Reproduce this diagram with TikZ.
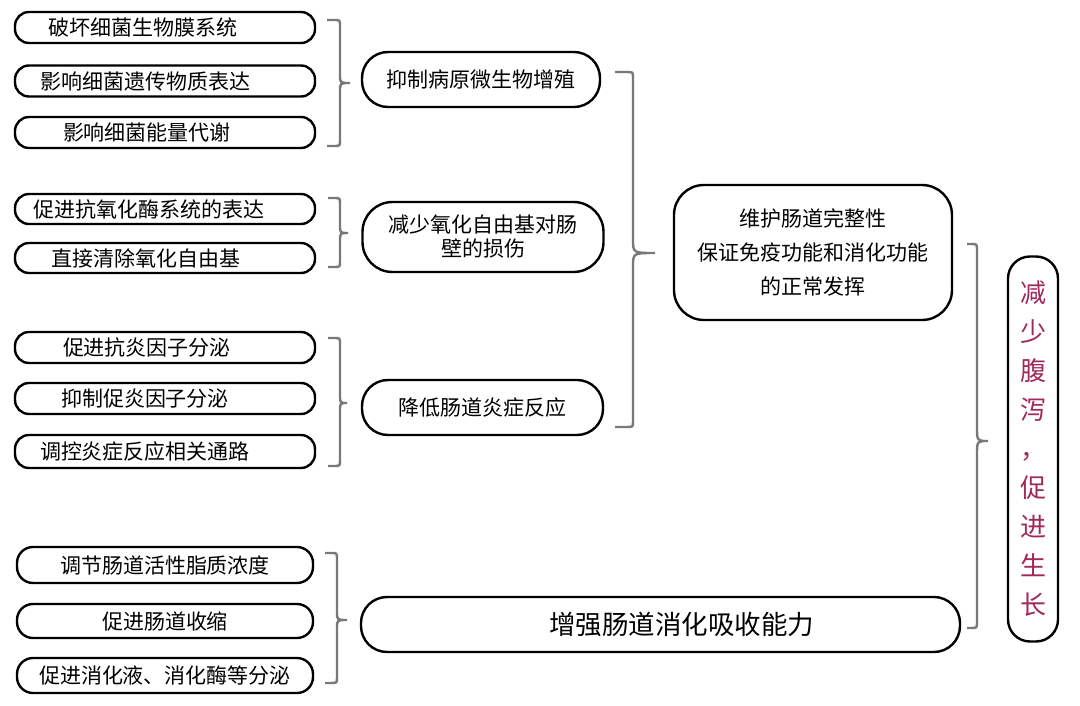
\documentclass[tikz,border=0pt]{standalone}
\usepackage{fontspec}
\setmainfont{Noto Sans CJK SC}
\definecolor{brgray}{RGB}{120,120,120}
\definecolor{rosered}{RGB}{160,40,90}
\newcommand\drawbrace[7]{%
  \draw[brc] (#1,#4) -- ({#2-6},#4) .. controls (#2,#4) .. (#2,{#4+6})
    -- (#2,{#5-#7}) .. controls (#2,#5) .. (#3,#5) .. controls (#2,#5) .. (#2,{#5+#7})
    -- (#2,{#6-6}) .. controls (#2,#6) .. ({#2-6},#6) -- (#1,#6);}
\begin{document}
\begin{tikzpicture}[x=1pt,y=-1pt,
  leaf/.style={draw, line width=2.4pt, rounded corners=14pt, minimum width=300pt,
    minimum height=31pt, inner sep=0pt, font=\fontsize{21}{24}\selectfont},
  mid/.style={draw, line width=2.4pt, rounded corners=26pt, inner sep=0pt,
    font=\fontsize{21}{24}\selectfont, align=center},
  brc/.style={draw=brgray, line width=2.4pt},
]
\useasboundingbox (0,0) rectangle (1080,706);
% group 1
\node[leaf] (l1) at (165,27.5) {破坏细菌生物膜系统\hspace*{44pt}};
\node[leaf] (l2) at (165,81) {影响细菌遗传物质表达\hspace*{38pt}};
\node[leaf] (l3) at (165,132.5) {影响细菌能量代谢\hspace*{36pt}};
% group 2
\node[leaf, minimum height=30pt] (l4) at (165,209) {促进抗氧化酶系统的表达\hspace*{32pt}};
\node[leaf, minimum height=30pt] (l5) at (165,258) {直接清除氧化自由基\hspace*{38pt}};
% group 3
\node[leaf] (l6) at (165,347.5) {促进抗炎因子分泌\hspace*{36pt}};
\node[leaf] (l7) at (165,398.5) {抑制促炎因子分泌\hspace*{40pt}};
\node[leaf, minimum height=33pt] (l8) at (165,451.5) {调控炎症反应相关通路\hspace*{40pt}};
% group 4
\node[leaf, minimum width=296pt, minimum height=36pt, rounded corners=16pt] (l9) at (165,565) {调节肠道活性脂质浓度};
\node[leaf, minimum width=296pt, minimum height=34pt, rounded corners=16pt] (l10) at (165,621) {促进肠道收缩};
\node[leaf, minimum width=296pt, minimum height=35pt, rounded corners=16pt] (l11) at (165,675.5) {促进消化液、消化酶等分泌};
% middle
\node[mid, minimum width=238pt, minimum height=55pt] (m1) at (481,79.5) {抑制病原微生物增殖};
\node[mid, minimum width=241pt, minimum height=70pt, rounded corners=30pt] (m2) at (483,237) {减少氧化自由基对肠\\壁的损伤};
\node[mid, minimum width=241pt, minimum height=55pt] (m3) at (482.5,407.5) {降低肠道炎症反应};
\node[mid, minimum width=599pt, minimum height=55pt, font=\fontsize{26.5}{30}\selectfont] (m4) at (660.5,624.5) {\hspace*{42pt}增强肠道消化吸收能力};
% right
\node[mid, minimum width=278pt, minimum height=135pt, rounded corners=30pt,
  font=\fontsize{21}{34}\selectfont] (r1) at (813,252.5) {维护肠道完整性\\保证免疫功能和消化功能\\的正常发挥};
\node[mid, minimum width=50pt, minimum height=385pt, rounded corners=22pt,
  text=rosered, font=\fontsize{26}{39}\selectfont] (r2) at (1033,449)
  {减\\少\\腹\\泻\\，\\促\\进\\生\\长};
% braces
\drawbrace{327}{340}{350}{20}{83}{146}{8}
\drawbrace{328}{340}{348}{198}{233}{267}{8}
\drawbrace{328}{340}{347}{338}{403}{466}{8}
\drawbrace{325}{337}{347}{553}{620}{683}{8}
\drawbrace{615}{633}{655}{72}{253}{427}{14}
\drawbrace{967}{977}{988}{244}{441}{628}{14}
\end{tikzpicture}
\end{document}
